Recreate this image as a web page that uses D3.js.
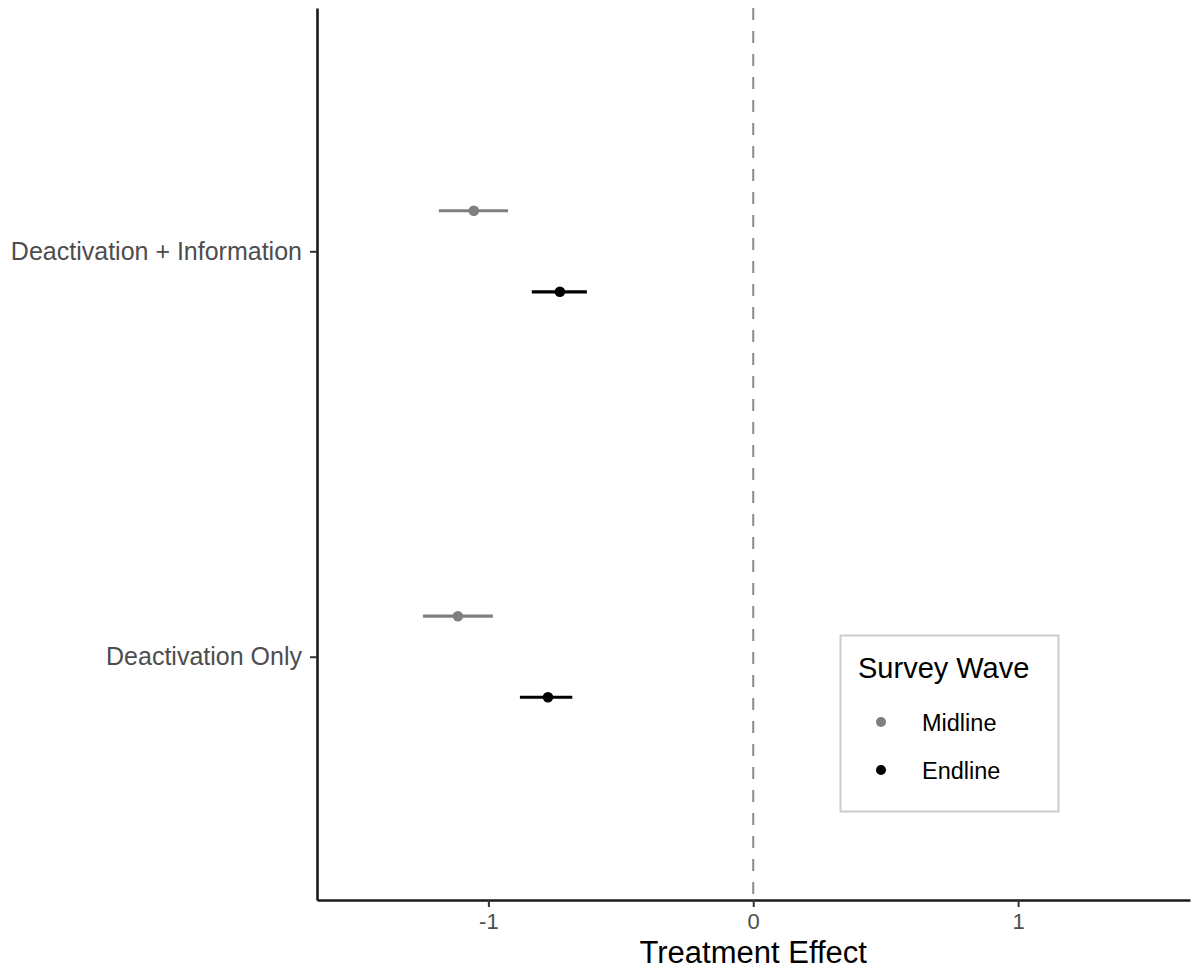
<!DOCTYPE html>
<html>
<head>
<meta charset="utf-8">
<script src="https://cdn.jsdelivr.net/npm/d3@7"></script>
<style>
  html, body { margin: 0; padding: 0; background: #fff; }
  svg { display: block; font-family: "Liberation Sans", Arial, Helvetica, sans-serif; }
</style>
</head>
<body>
<svg id="chart" width="1195" height="974"></svg>
<script>
// ---- data ----
const categories = ["Deactivation + Information", "Deactivation Only"];
const waves = ["Midline", "Endline"];
const midlineEst = [-1.055, -1.115];
const midlineLow = [-1.187, -1.247];
const midlineHigh = [-0.926, -0.983];
const endlineEst = [-0.730, -0.775];
const endlineLow = [-0.836, -0.881];
const endlineHigh = [-0.628, -0.683];
const xTickValues = [-1, 0, 1];
const xTickLabels = ["-1", "0", "1"];
const waveColors = ["#7f7f7f", "#000000"];

const rows = [];
categories.forEach((c, i) => {
  rows.push({cat: c, wave: "Midline", est: midlineEst[i], lo: midlineLow[i], hi: midlineHigh[i]});
  rows.push({cat: c, wave: "Endline", est: endlineEst[i], lo: endlineLow[i], hi: endlineHigh[i]});
});

const svg = d3.select("#chart");
const pLeft = 317, pRight = 1190, pTop = 8, pBottom = 900;

const x = d3.scaleLinear().domain([-1.647, 1.649]).range([pLeft, pRight]);
const y = d3.scalePoint().domain(categories).range([pTop, pBottom]).padding(0.6);
const dodge = d3.scalePoint().domain(waves).range([-0.1, 0.1]);
const color = d3.scaleOrdinal().domain(waves).range(waveColors);
const yPos = d => y(d.cat) + dodge(d.wave) * y.step();

// zero reference line
svg.append("line")
  .attr("x1", x(0)).attr("x2", x(0))
  .attr("y1", pTop).attr("y2", pBottom)
  .attr("stroke", "#8a8a8a").attr("stroke-width", 2)
  .attr("stroke-dasharray", "12,11");

// error bars
svg.append("g").selectAll("line").data(rows).join("line")
  .attr("x1", d => x(d.lo)).attr("x2", d => x(d.hi))
  .attr("y1", yPos).attr("y2", yPos)
  .attr("stroke", d => color(d.wave)).attr("stroke-width", 3.2);

// points
svg.append("g").selectAll("circle").data(rows).join("circle")
  .attr("cx", d => x(d.est)).attr("cy", yPos).attr("r", 5.3)
  .attr("fill", d => color(d.wave));

// x axis
const xAxis = svg.append("g").attr("transform", `translate(0,${pBottom})`)
  .call(d3.axisBottom(x).tickValues(xTickValues).tickFormat((d, i) => xTickLabels[i]).tickSize(7).tickPadding(6).tickSizeOuter(0));
xAxis.select(".domain").attr("stroke", "#1a1a1a").attr("stroke-width", 2.6);
xAxis.selectAll(".tick line").attr("stroke", "#333").attr("stroke-width", 2);
xAxis.selectAll(".tick text").attr("fill", "#4d4d4d").attr("font-size", 22).attr("font-family", null);

// y axis
const yAxis = svg.append("g").attr("transform", `translate(${pLeft},0)`)
  .call(d3.axisLeft(y).tickSize(7).tickPadding(8).tickSizeOuter(0));
yAxis.select(".domain").attr("stroke", "#1a1a1a").attr("stroke-width", 2.6);
yAxis.selectAll(".tick line").attr("stroke", "#333").attr("stroke-width", 2);
yAxis.selectAll(".tick text").attr("fill", "#4d4d4d").attr("font-size", 25).attr("font-family", null);

// axis title
svg.append("text")
  .attr("x", x(0))
  .attr("y", 963).attr("text-anchor", "middle")
  .attr("font-size", 31).attr("fill", "#000")
  .text("Treatment Effect");

// legend
const lg = svg.append("g");
lg.append("rect").attr("x", 840.5).attr("y", 635.5).attr("width", 218).attr("height", 176)
  .attr("fill", "#fff").attr("stroke", "#cccccc").attr("stroke-width", 2);
lg.append("text").attr("x", 858).attr("y", 678).attr("font-size", 29).attr("fill", "#000")
  .text("Survey Wave");
const items = lg.selectAll("g.item").data(waves).join("g").attr("class", "item")
  .attr("transform", (d, i) => `translate(0,${722 + i * 48})`);
items.append("circle").attr("cx", 881).attr("cy", 0).attr("r", 5).attr("fill", d => color(d));
items.append("text").attr("x", 922).attr("y", 8.5).attr("font-size", 23.5).attr("fill", "#000").text(d => d);
</script>
</body>
</html>
